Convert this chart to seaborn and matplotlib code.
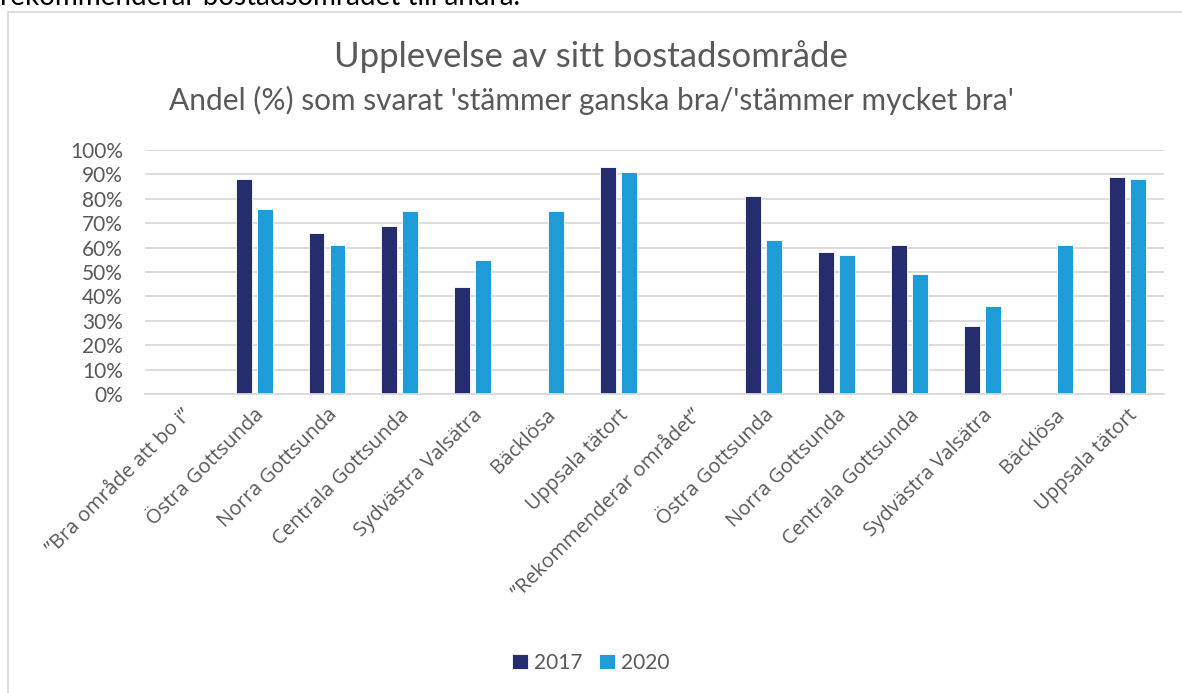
import matplotlib
matplotlib.use("Agg")
import matplotlib.pyplot as plt
from matplotlib.patches import Rectangle
from matplotlib.transforms import ScaledTranslation
import numpy as np
import pandas as pd
import seaborn as sns

# data (share answering "stämmer ganska/mycket bra")
labels = ["”Bra område att bo i”", "Östra Gottsunda", "Norra Gottsunda",
          "Centrala Gottsunda", "Sydvästra Valsätra", "Bäcklösa", "Uppsala tätort",
          "”Rekommenderar området”", "Östra Gottsunda", "Norra Gottsunda",
          "Centrala Gottsunda", "Sydvästra Valsätra", "Bäcklösa", "Uppsala tätort"]
v2017 = [np.nan, 0.88, 0.66, 0.69, 0.44, np.nan, 0.93,
         np.nan, 0.81, 0.58, 0.61, 0.28, np.nan, 0.89]
v2020 = [np.nan, 0.76, 0.61, 0.75, 0.55, 0.75, 0.91,
         np.nan, 0.63, 0.57, 0.49, 0.36, 0.61, 0.88]
years = ["2017", "2020"]
colors = ["#252D6E", "#1D9CD8"]

pos = list(range(len(labels)))
df = pd.DataFrame({
    "pos": pos * 2,
    "year": [years[0]] * len(pos) + [years[1]] * len(pos),
    "value": v2017 + v2020,
})

sns.set_style("white")
plt.rcParams["font.family"] = ["Open Sans", "DejaVu Sans"]
lato = ["Lato", "DejaVu Sans"]
txt = "#595959"
grid = "#D9D9D9"

fig = plt.figure(figsize=(11.82, 6.93), dpi=100)
ax = fig.add_axes([0.1227, 0.4315, 0.8621, 0.352])

sns.barplot(data=df, x="pos", y="value", hue="year", order=pos,
            hue_order=years, palette=colors, saturation=1, width=0.577, gap=0.24,
            edgecolor="white", linewidth=0.6, ax=ax, legend=True)

ax.set_ylim(0, 1.0)
ax.set_xlim(-0.5, len(labels) - 0.5)
yt = np.arange(0, 1.01, 0.1)
ax.set_yticks(yt)
ax.set_yticklabels([f"{int(round(t * 100))}%" for t in yt],
                   fontsize=15, color=txt, family=lato)
ax.set_xticks(pos)
ax.set_xticklabels(labels, rotation=45, ha="right", rotation_mode="anchor",
                   fontsize=14.5, color=txt)
# nudge the slanted labels down-left like the original
shift = ScaledTranslation(-5 / 100, -5 / 100, fig.dpi_scale_trans)
for lbl in ax.get_xticklabels():
    lbl.set_transform(lbl.get_transform() + shift)
ax.tick_params(axis="y", length=0, pad=16)
ax.tick_params(axis="x", length=0, pad=8)
ax.set_xlabel("")
ax.set_ylabel("")
ax.yaxis.grid(True, color=grid, linewidth=1.3)
ax.set_axisbelow(True)
for s in ["top", "right", "left"]:
    ax.spines[s].set_visible(False)
ax.spines["bottom"].set_color(grid)
ax.spines["bottom"].set_linewidth(1.3)

leg = ax.legend(loc="center", bbox_to_anchor=(0.5, 1 - 663 / 693), bbox_transform=fig.transFigure,
                ncol=2, frameon=False, prop={"family": lato, "size": 15},
                handlelength=0.75, handleheight=0.75, handletextpad=0.3, columnspacing=0.8)
for t in leg.get_texts():
    t.set_color(txt)

fig.text(0.5, 1 - 57 / 693, "Upplevelse av sitt bostadsområde", ha="center", va="center",
         fontsize=25, color=txt, family=lato)
fig.text(0.5, 1 - 100 / 693, "Andel (%) som svarat 'stämmer ganska bra/'stämmer mycket bra'",
         ha="center", va="center", fontsize=21.5, color=txt, family=lato)

# clipped sentence above the chart frame
fig.text(0.0, 1 - 5 / 693, "rekommenderar bostadsområdet till andra.", ha="left", va="baseline",
         fontsize=20, color="black", family=lato)

# chart frame
fig.patches.append(Rectangle((8 / 1182, -0.1), 1.2, 1 - 12 / 693 + 0.1,
                             transform=fig.transFigure, fill=False,
                             edgecolor=grid, linewidth=1.3))

fig.savefig("out.png", dpi=100)
